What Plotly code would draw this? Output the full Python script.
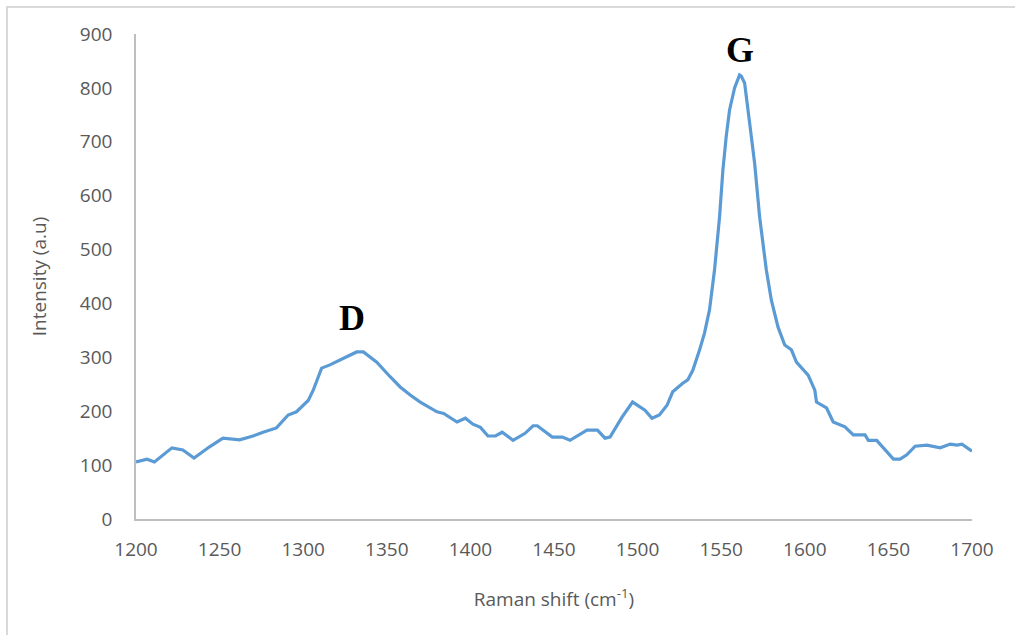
import plotly.graph_objects as go

# Raman spectrum
raman_shift = [1200, 1206.6, 1211, 1221.5, 1228, 1234.7, 1244, 1252, 1262, 1270,
               1276, 1284, 1291, 1296, 1303, 1306, 1311, 1316, 1326, 1332,
               1336, 1344, 1352, 1358, 1364, 1370, 1380, 1384, 1392, 1397,
               1401.5, 1406, 1410.5, 1415, 1419, 1425.5, 1432.7, 1437.5, 1440, 1449,
               1455, 1459.6, 1469.7, 1476, 1480.5, 1483.5, 1490.7, 1497, 1504.4, 1508.6,
               1513, 1517.6, 1521, 1527, 1530, 1533, 1537, 1540, 1543, 1546,
               1549, 1551, 1553, 1555, 1558, 1561, 1562, 1564, 1567, 1570,
               1573, 1577, 1580, 1584, 1588, 1592, 1595, 1602, 1606, 1607,
               1613, 1617, 1624, 1629, 1636, 1638, 1643, 1648, 1653, 1657,
               1661, 1666, 1673, 1681, 1687, 1691, 1694, 1700]
intensity = [106, 111, 106, 132, 128, 113, 134, 150, 147, 154,
             161, 169, 193, 199, 220, 239, 280, 286, 301, 310,
             310, 291, 264, 245, 230, 217, 199, 196, 180, 187,
             176, 170, 154, 154, 161, 146, 159, 173, 173, 152,
             152, 146, 165, 165, 150, 152, 189, 217, 202, 187,
             193, 211, 236, 252, 258, 276, 313, 345, 388, 462,
             560, 647, 710, 759, 800, 824, 822, 809, 735, 660,
             560, 462, 406, 356, 323, 314, 291, 267, 239, 217,
             206, 180, 171, 156, 156, 146, 146, 128, 111, 111,
             119, 135, 137, 132, 139, 137, 139, 126]

x_ticks = [1200, 1250, 1300, 1350, 1400, 1450, 1500, 1550, 1600, 1650, 1700]
y_ticks = [0, 100, 200, 300, 400, 500, 600, 700, 800, 900]

peak_names = ["<b>D</b>", "<b>G</b>"]
peak_x = [1329, 1561]
peak_y = [373, 870]

fig = go.Figure()
fig.add_trace(go.Scatter(
    x=raman_shift, y=intensity, mode="lines",
    line=dict(color="#5B9BD5", width=3.2), showlegend=False,
))

for name, px, py in zip(peak_names, peak_x, peak_y):
    fig.add_annotation(x=px, y=py, xref="x", yref="y", text=name, showarrow=False,
                       font=dict(family="Liberation Serif", size=36, color="#000000"),
                       yanchor="middle", xanchor="center")

tick_font = dict(family="Open Sans", size=19, color="#595959")
fig.update_layout(
    width=1015, height=635,
    margin=dict(l=136, r=43, t=34, b=116),
    paper_bgcolor="white", plot_bgcolor="white",
    xaxis=dict(range=[1200, 1700], tickvals=x_ticks, showgrid=False, zeroline=False,
               showline=True, linecolor="#bfbfbf", linewidth=1.5, ticks="",
               tickfont=tick_font, ticklabelstandoff=12,
               title=dict(text="Raman shift (cm<sup>-1</sup>)", font=tick_font, standoff=32)),
    yaxis=dict(range=[0, 900], tickvals=y_ticks, showgrid=False, zeroline=False,
               showline=True, linecolor="#bfbfbf", linewidth=1.5, ticks="",
               tickfont=tick_font, ticklabelstandoff=18,
               title=dict(text="Intensity (a.u)", font=tick_font, standoff=28)),
)

# chart frame (Excel-style outline)
fig.add_shape(type="rect", xref="paper", yref="paper",
              x0=-0.1543, x1=1.06, y0=-0.26, y1=1.0557,
              line=dict(color="#d9d9d9", width=2), layer="below")

fig.write_html("out.html")
